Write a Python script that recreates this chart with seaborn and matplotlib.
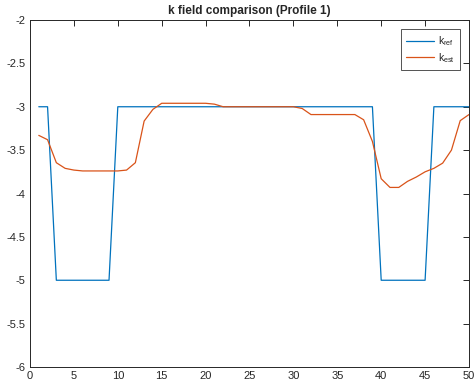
import numpy as np
import matplotlib
matplotlib.use('Agg')
import matplotlib.pyplot as plt
import pandas as pd
import seaborn as sns

# dados do perfil 1
x = list(range(1, 51))
k_ref = [-3, -3] + [-5] * 7 + [-3] * 30 + [-5] * 6 + [-3] * 5
k_est = [-3.33, -3.38, -3.645, -3.71, -3.73, -3.74, -3.74, -3.74, -3.74, -3.74,
         -3.73, -3.645, -3.165, -3.03, -2.96, -2.96, -2.96, -2.96, -2.96, -2.96,
         -2.97, -3.0, -3.0, -3.0, -3.0, -3.0, -3.0, -3.0, -3.0, -3.0,
         -3.02, -3.09, -3.09, -3.09, -3.09, -3.09, -3.09, -3.15, -3.40, -3.83,
         -3.93, -3.93, -3.86, -3.81, -3.75, -3.71, -3.65, -3.50, -3.16, -3.09]
series_names = ['k$_{ref}$', 'k$_{est}$']
cores = ['#0072BD', '#D95319']
xticks = [0, 5, 10, 15, 20, 25, 30, 35, 40, 45, 50]
yticks = [-6, -5.5, -5, -4.5, -4, -3.5, -3, -2.5, -2]

df = pd.DataFrame({'x': x * 2,
                   'k': k_ref + k_est,
                   'serie': [series_names[0]] * len(x) + [series_names[1]] * len(x)})

sns.set_style('white')
plt.rcParams['font.family'] = ['Liberation Sans', 'DejaVu Sans']
plt.rcParams['mathtext.fontset'] = 'custom'
plt.rcParams['mathtext.rm'] = 'Liberation Sans'
plt.rcParams['mathtext.it'] = 'Liberation Sans'

fig = plt.figure(figsize=(4.75, 3.83), dpi=100)
ax = fig.add_axes([30 / 475, 1 - 367 / 383, 439 / 475, 347 / 383])

sns.lineplot(data=df, x='x', y='k', hue='serie', palette=cores, ax=ax, linewidth=0.9)

ax.set_xlim(0, 50)
ax.set_ylim(-6, -2)
ax.set_xticks(xticks)
ax.set_yticks(yticks)
ax.set_xticklabels([str(t) for t in xticks])
ax.set_yticklabels([('%g' % t) for t in yticks])
ax.set_xlabel('')
ax.set_ylabel('')
ax.tick_params(direction='in', length=4, width=0.7, top=True, right=True,
               labelsize=8, colors='#262626', pad=3)
for s in ax.spines.values():
    s.set_color('#262626')
    s.set_linewidth(0.7)

ax.set_title('k field comparison (Profile 1)', fontsize=8.5, fontweight='bold', pad=4)

leg = ax.legend(loc='upper right', fontsize=7.5, frameon=True, fancybox=False,
                handlelength=2.7, borderaxespad=0.9, handletextpad=0.3,
                labelspacing=0.25, borderpad=0.5)
leg.get_frame().set_edgecolor('#262626')
leg.get_frame().set_linewidth(0.7)

fig.savefig('out.png', dpi=100)
